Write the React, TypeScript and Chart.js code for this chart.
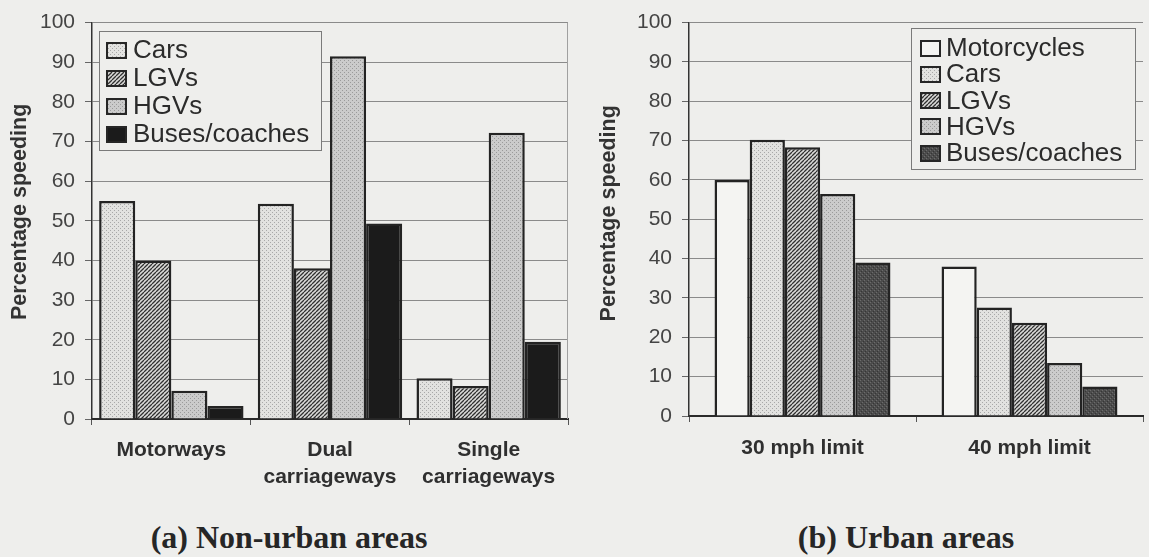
import React, { useEffect, useRef } from 'react';
import { Chart, registerables } from 'chart.js';

Chart.register(...registerables);

const PAPER = '#eeeeec';
const SANS = '"Liberation Sans", Arial, sans-serif';
const SERIF = '"Liberation Serif", "Times New Roman", serif';

// ---- (a) Non-urban areas ----
const nonUrbanCategories: (string | string[])[] = ['Motorways', ['Dual', 'carriageways'], ['Single', 'carriageways']];
const nonUrbanCars = [55, 54.3, 10.3];
const nonUrbanLGVs = [40, 38, 8.3];
const nonUrbanHGVs = [7.1, 91.5, 72.2];
const nonUrbanBuses = [3.3, 49.3, 19.5];

// ---- (b) Urban areas ----
const urbanCategories = ['30 mph limit', '40 mph limit'];
const urbanMotorcycles = [60, 38];
const urbanCars = [70.2, 27.6];
const urbanLGVs = [68.3, 23.7];
const urbanHGVs = [56.4, 13.5];
const urbanBuses = [39, 7.5];

const yMin = 0;
const yMax = 100;
const yStep = 10;

type Kind = 'white' | 'stipple' | 'hatch' | 'grey' | 'black' | 'darkgrey';

function makeFill(kind: Kind): any {
  if (kind === 'white') return '#f4f4f2';
  if (kind === 'black') return '#1b1b1b';
  const c = document.createElement('canvas');
  c.width = 4;
  c.height = 4;
  const g = c.getContext('2d')!;
  if (kind === 'stipple') {
    g.fillStyle = '#e2e2e0';
    g.fillRect(0, 0, 4, 4);
    g.fillStyle = '#a8a8a8';
    g.fillRect(0, 0, 1, 1);
    g.fillRect(2, 2, 1, 1);
  } else if (kind === 'grey') {
    g.fillStyle = '#cbcbcb';
    g.fillRect(0, 0, 4, 4);
    g.fillStyle = '#9a9a9a';
    g.fillRect(0, 0, 1, 1);
    g.fillRect(2, 2, 1, 1);
  } else if (kind === 'darkgrey') {
    g.fillStyle = '#4c4c4c';
    g.fillRect(0, 0, 4, 4);
    g.fillStyle = '#6c6c6c';
    g.fillRect(0, 0, 1, 1);
    g.fillRect(2, 2, 1, 1);
    g.fillStyle = '#363636';
    g.fillRect(1, 3, 1, 1);
    g.fillRect(3, 1, 1, 1);
  } else if (kind === 'hatch') {
    g.fillStyle = '#dadad8';
    g.fillRect(0, 0, 4, 4);
    g.strokeStyle = '#303030';
    g.lineWidth = 1.3;
    g.beginPath();
    for (const o of [-4, 0, 4]) {
      g.moveTo(o, 4);
      g.lineTo(o + 4, 0);
    }
    g.stroke();
  }
  return g.createPattern(c, 'repeat');
}

type LegendCfg = {
  side: 'left' | 'right';
  dx: number;
  dy: number;
  width: number;
  height: number;
  firstRow: number;
  rowGap: number;
  swatchX: number;
  swatchW: number;
  swatchH: number;
  textX: number;
  fontSize: number;
};

function boxLegendPlugin(cfg: LegendCfg, rightBorder: boolean) {
  return {
    id: 'boxLegend',
    afterDraw(chart: any) {
      const { ctx, chartArea } = chart;
      ctx.save();
      if (rightBorder) {
        ctx.strokeStyle = '#a0a0a0';
        ctx.lineWidth = 1;
        ctx.beginPath();
        ctx.moveTo(Math.round(chartArea.right) - 0.5, chartArea.top);
        ctx.lineTo(Math.round(chartArea.right) - 0.5, chartArea.bottom);
        ctx.stroke();
      }
      const x = Math.round(cfg.side === 'left' ? chartArea.left + cfg.dx : chartArea.right - cfg.dx - cfg.width);
      const y = Math.round(chartArea.top + cfg.dy);
      ctx.fillStyle = PAPER;
      ctx.fillRect(x, y, cfg.width, cfg.height);
      ctx.strokeStyle = '#7a7a7a';
      ctx.lineWidth = 1;
      ctx.strokeRect(x + 0.5, y + 0.5, cfg.width, cfg.height);
      chart.data.datasets.forEach((ds: any, i: number) => {
        const cy = y + cfg.firstRow + i * cfg.rowGap;
        const sx = x + cfg.swatchX;
        const sy = Math.round(cy - cfg.swatchH / 2);
        ctx.fillStyle = ds.backgroundColor;
        ctx.fillRect(sx, sy, cfg.swatchW, cfg.swatchH);
        ctx.strokeStyle = '#262626';
        ctx.lineWidth = 2;
        ctx.strokeRect(sx, sy, cfg.swatchW, cfg.swatchH);
        ctx.fillStyle = '#2b2b2b';
        ctx.font = `${cfg.fontSize}px ${SANS}`;
        ctx.textBaseline = 'middle';
        ctx.textAlign = 'left';
        ctx.fillText(ds.label, x + cfg.textX, cy + 1);
      });
      ctx.restore();
    },
  };
}

type PanelOpts = {
  labels: any[];
  datasets: any[];
  canvasHeight: number;
  plotBottom: number;
  yAxisWidth: number;
  padding: { left: number; right: number; top: number; bottom: number };
  categoryPercentage: number;
  xTickPadding: number;
  yTitle: string;
  yTitlePad: number;
  legend: LegendCfg;
  rightBorder: boolean;
};

function buildChart(canvas: HTMLCanvasElement, o: PanelOpts) {
  return new Chart(canvas, {
    type: 'bar',
    data: { labels: o.labels, datasets: o.datasets },
    options: {
      responsive: true,
      maintainAspectRatio: false,
      animation: false,
      layout: { padding: o.padding },
      datasets: {
        bar: {
          categoryPercentage: o.categoryPercentage,
          barPercentage: 1,
          borderColor: '#232323',
          borderWidth: 2.5,
        },
      },
      plugins: {
        legend: { display: false },
        tooltip: { enabled: false },
      },
      scales: {
        x: {
          grid: {
            display: true,
            drawOnChartArea: false,
            drawTicks: true,
            tickLength: 6,
            color: '#555555',
            offset: true,
          },
          border: { display: true, color: '#2a2a2a', width: 2 },
          ticks: {
            color: '#2f2f2f',
            padding: o.xTickPadding,
            maxRotation: 0,
            autoSkip: false,
            font: { family: SANS, size: 21, weight: 'bold', lineHeight: 1.28 },
          },
          afterFit: (scale: any) => {
            scale.height = o.canvasHeight - o.plotBottom;
          },
        },
        y: {
          min: yMin,
          max: yMax,
          ticks: {
            stepSize: yStep,
            color: '#444444',
            padding: 10,
            font: { family: SANS, size: 21 },
          },
          grid: {
            color: '#8a8a8a',
            lineWidth: 1,
            tickLength: 7,
            tickColor: '#666666',
          },
          border: { display: true, color: '#333333', width: 1.5 },
          title: {
            display: true,
            text: o.yTitle,
            color: '#333333',
            font: { family: SANS, size: 21.5, weight: 'bold' },
            padding: { top: o.yTitlePad, bottom: 0 },
          },
          afterFit: (scale: any) => {
            scale.width = o.yAxisWidth;
          },
        },
      },
    } as any,
    plugins: [boxLegendPlugin(o.legend, o.rightBorder)],
  });
}

export default function App() {
  const leftRef = useRef<HTMLCanvasElement>(null);
  const rightRef = useRef<HTMLCanvasElement>(null);

  useEffect(() => {
    const stipple = makeFill('stipple');
    const hatch = makeFill('hatch');
    const grey = makeFill('grey');
    const black = makeFill('black');
    const white = makeFill('white');
    const darkgrey = makeFill('darkgrey');

    const left = buildChart(leftRef.current!, {
      labels: nonUrbanCategories,
      datasets: [
        { label: 'Cars', data: nonUrbanCars, backgroundColor: stipple },
        { label: 'LGVs', data: nonUrbanLGVs, backgroundColor: hatch },
        { label: 'HGVs', data: nonUrbanHGVs, backgroundColor: grey },
        { label: 'Buses/coaches', data: nonUrbanBuses, backgroundColor: black },
      ],
      canvasHeight: 500,
      plotBottom: 419,
      yAxisWidth: 92,
      padding: { left: 0, right: 12, top: 19, bottom: 0 },
      categoryPercentage: 0.91,
      xTickPadding: 12,
      yTitle: '   Percentage speeding',
      yTitlePad: 7,
      legend: {
        side: 'left', dx: 7, dy: 8, width: 222, height: 119, firstRow: 19, rowGap: 28,
        swatchX: 8, swatchW: 19, swatchH: 15, textX: 34, fontSize: 26,
      },
      rightBorder: true,
    });

    const right = buildChart(rightRef.current!, {
      labels: urbanCategories,
      datasets: [
        { label: 'Motorcycles', data: urbanMotorcycles, backgroundColor: white },
        { label: 'Cars', data: urbanCars, backgroundColor: stipple },
        { label: 'LGVs', data: urbanLGVs, backgroundColor: hatch },
        { label: 'HGVs', data: urbanHGVs, backgroundColor: grey },
        { label: 'Buses/coaches', data: urbanBuses, backgroundColor: darkgrey },
      ],
      canvasHeight: 500,
      plotBottom: 416,
      yAxisWidth: 109,
      padding: { left: 0, right: 6, top: 18, bottom: 0 },
      categoryPercentage: 0.775,
      xTickPadding: 13,
      yTitle: '  Percentage speeding',
      yTitlePad: 16,
      legend: {
        side: 'right', dx: 8, dy: 5, width: 224, height: 141, firstRow: 20, rowGap: 26.3,
        swatchX: 10, swatchW: 19, swatchH: 15, textX: 35, fontSize: 26,
      },
      rightBorder: false,
    });

    return () => {
      left.destroy();
      right.destroy();
    };
  }, []);

  const titleStyle: React.CSSProperties = {
    position: 'absolute',
    top: 517,
    width: 400,
    textAlign: 'center',
    fontFamily: SERIF,
    fontWeight: 'bold',
    fontSize: 32,
    lineHeight: '40px',
    color: '#262626',
  };

  return (
    <div style={{ position: 'fixed', left: 0, top: 0, width: 1149, height: 557, background: PAPER, overflow: 'hidden' }}>
      <div style={{ position: 'absolute', left: 0, top: 0, width: 580, height: 500 }}>
        <canvas ref={leftRef} />
      </div>
      <div style={{ position: 'absolute', left: 580, top: 0, width: 569, height: 500 }}>
        <canvas ref={rightRef} />
      </div>
      <div style={{ ...titleStyle, left: 89 }}>(a) Non-urban areas</div>
      <div style={{ ...titleStyle, left: 706 }}>(b) Urban areas</div>
    </div>
  );
}
